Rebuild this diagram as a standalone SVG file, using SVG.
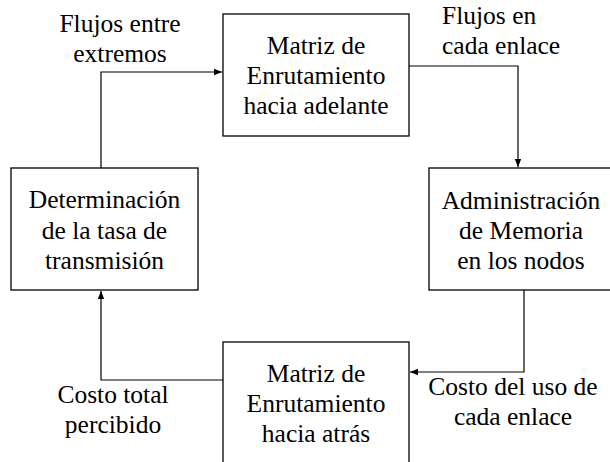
<svg xmlns="http://www.w3.org/2000/svg" width="610" height="462" viewBox="0 0 610 462">
<defs>
<marker id="arr" viewBox="0 0 10 10" refX="10" refY="5" markerWidth="8" markerHeight="8" markerUnits="userSpaceOnUse" orient="auto">
<path d="M0,1 L10,5 L0,9 Z" fill="#000"/>
</marker>
<style>
.box{fill:#fff;stroke:#000;stroke-width:1.3}
text{font-family:"Liberation Serif","Times New Roman",Tinos,serif;font-size:25.5px;fill:#000}
.c{text-anchor:middle}
.conn{fill:none;stroke:#000;stroke-width:1.2}
</style>
</defs>
<rect width="610" height="462" fill="#fff"/>
<g id="connectors">
<path class="conn" d="M101,168 V72 H222" marker-end="url(#arr)"/>
<path class="conn" d="M409,66 H518 V167" marker-end="url(#arr)"/>
<path class="conn" d="M524,290 V372 H410" marker-end="url(#arr)"/>
<path class="conn" d="M223,380 H101 V291" marker-end="url(#arr)"/>
</g>
<g id="n-forward">
<rect class="box" x="223" y="14" width="186" height="122"/>
<text class="c" x="316" y="54">Matriz de</text>
<text class="c" x="316" y="84">Enrutamiento</text>
<text class="c" x="316" y="114">hacia adelante</text>
</g>
<g id="n-memory">
<rect class="box" x="429" y="168" width="187" height="122"/>
<text class="c" x="521" y="209">Administración</text>
<text class="c" x="521" y="239">de Memoria</text>
<text class="c" x="521" y="269">en los nodos</text>
</g>
<g id="n-backward">
<rect class="box" x="223" y="342" width="186" height="130"/>
<text class="c" x="316" y="382">Matriz de</text>
<text class="c" x="316" y="412">Enrutamiento</text>
<text class="c" x="316" y="442">hacia atrás</text>
</g>
<g id="n-rate">
<rect class="box" x="11" y="168" width="187" height="122"/>
<text class="c" x="104.5" y="208">Determinación</text>
<text class="c" x="104.5" y="239">de la tasa de</text>
<text class="c" x="104.5" y="269">transmisión</text>
</g>
<g id="labels">
<text class="c" x="120" y="32">Flujos entre</text>
<text class="c" x="120" y="62">extremos</text>
<text x="442" y="24">Flujos en</text>
<text x="442" y="54">cada enlace</text>
<text class="c" x="113" y="403">Costo total</text>
<text class="c" x="113" y="433">percibido</text>
<text class="c" x="513" y="395">Costo del uso de</text>
<text class="c" x="513" y="425">cada enlace</text>
</g>
</svg>
